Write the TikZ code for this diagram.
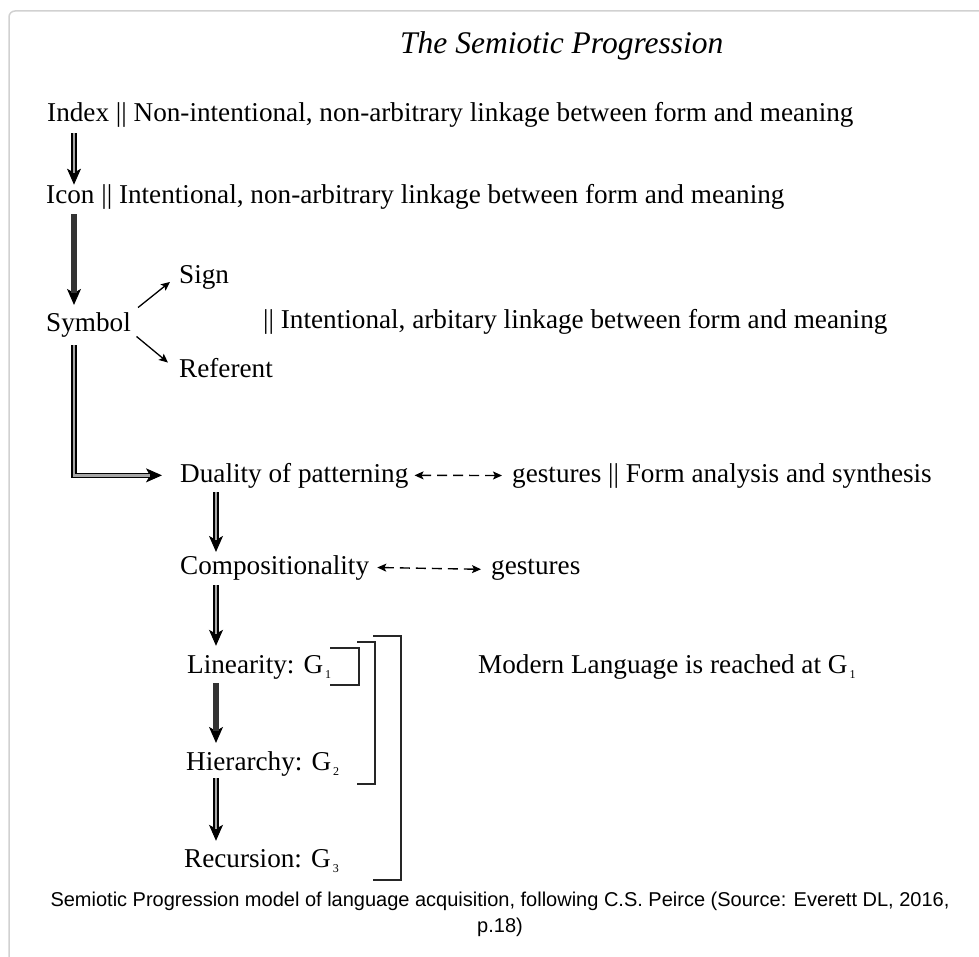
\documentclass[tikz,border=0pt]{standalone}
\usepackage{fontspec}
\setmainfont{Liberation Serif}
\newfontfamily\capfont{Liberation Sans}
\usetikzlibrary{arrows.meta,calc}
\newcommand\mysub[1]{\hspace{2pt}\raisebox{-5pt}{\fontsize{12}{12}\selectfont #1}}
\newcommand\darrow[3][dbl]{\draw[tipA] #2 -- #3; \draw[#1] #2 -- #3;}
\begin{document}
\begin{tikzpicture}[x=1pt,y=-1pt,
  txt/.style={anchor=base west, inner sep=0pt, font=\fontsize{27.2}{30}\selectfont},
  tipA/.style={-{Stealth[length=16pt,width=14pt,inset=4pt]}, line width=1pt},
  dbl/.style={double=black!35, double distance=2.4pt, line width=1.5pt, shorten >=12pt},
  thk/.style={line width=5.5pt, draw=black!80, shorten >=12pt},
  thin/.style={-{Stealth[length=9pt,width=8pt,inset=2pt]}, line width=1.3pt},
  dsh/.style={{Stealth[length=9pt,width=8pt,inset=2pt]}-{Stealth[length=9pt,width=8pt,inset=2pt]}, line width=1.4pt, dash pattern=on 10pt off 6pt},
  brk/.style={line width=1.8pt, draw=black!85}]
\useasboundingbox (0,0) rectangle (979,957);
\draw[black!18, line width=1.5pt, rounded corners=6pt] (9,970) -- (9,11) -- (990,11);

\coordinate (ax) at (74,0);
\coordinate (bx) at (216,0);

\node[txt, font=\fontsize{31.5}{34}\selectfont\itshape] (title) at (400,54) {The Semiotic Progression};
\node[txt] (index) at (47,122) {Index || Non-intentional, non-arbitrary linkage between form and meaning};
\node[txt] (icon) at (46,204) {Icon || Intentional, non-arbitrary linkage between form and meaning};
\node[txt] (symbol) at (46,331) {Symbol};
\node[txt] (sign) at (179,284) {Sign};
\node[txt] (referent) at (179,377) {Referent};
\node[txt] (symdesc) at (263,329) {|| Intentional, arbitary linkage between form and meaning};
\node[txt] (duality) at (180,482) {Duality of patterning};
\node[txt] (gest1) at (512,482) {gestures || Form analysis and synthesis};
\node[txt] (comp) at (180,574) {Compositionality};
\node[txt] (gest2) at (491,574) {gestures};
\node[txt] (lin) at (187,673) {Linearity: G\mysub{1}};
\node[txt] (hier) at (186,770) {Hierarchy: G\mysub{2}};
\node[txt] (rec) at (184,867) {Recursion: G\mysub{3}};
\node[txt] (modern) at (478,673) {Modern Language is reached at G\mysub{1}};
\node[anchor=base, inner sep=0pt, font=\capfont\fontsize{20}{24}\selectfont] (cap1) at (500,906) {Semiotic Progression model of language acquisition, following C.S. Peirce (Source: Everett DL, 2016,};
\node[anchor=base, inner sep=0pt, font=\capfont\fontsize{20}{24}\selectfont] (cap2) at (500,932) {p.18)};

% main chain
\darrow{($(index.south -| ax)+(0,5)$)}{(icon.north -| ax)}
\darrow[thk]{($(icon.south -| ax)+(0,4)$)}{($(symbol.north -| ax)+(0,-7)$)}
\draw[tipA] ($(symbol.south -| ax)+(0,8)$) |- ($(duality.west)+(-18,0)$);
\draw[dbl] ($(symbol.south -| ax)+(0,8)$) |- ($(duality.west)+(-18,0)$);
\darrow{($(duality.south -| bx)+(0,4)$)}{($(comp.north -| bx)+(0,-3)$)}
\darrow{($(comp.south -| bx)+(0,5)$)}{($(lin.north -| bx)+(0,-9)$)}
\darrow[thk]{($(lin.south -| bx)+(0,4)$)}{($(hier.north -| bx)+(0,-8)$)}
\darrow{($(hier.south -| bx)+(0,2)$)}{($(rec.north -| bx)+(0,-8)$)}

% symbol branches
\draw[thin] ($(symbol.east)+(7,-17)$) -- ($(sign.west)+(-9,4)$);
\draw[thin] ($(symbol.east)+(5.5,12)$) -- ($(referent.west)+(-11,-5)$);

% gestures
\draw[dsh] ($(duality.east)+(6,0)$) -- ($(gest1.west)+(-10,0)$);
\draw[dsh] ($(comp.east)+(8,0)$) -- ($(gest2.west)+(-10,0)$);

% brackets
\draw[brk] (330,648) -| (359,685) -- (330,685);
\draw[brk] (357,642) -| (375,784) -- (357,784);
\draw[brk] (373,636) -| (401,880) -- (373,880);
\end{tikzpicture}
\end{document}
